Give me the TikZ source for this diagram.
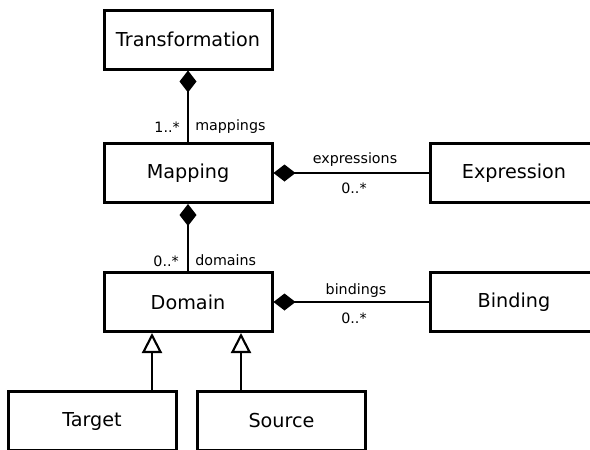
\documentclass[tikz,border=0pt]{standalone}
\usepackage{fontspec}
\setmainfont{DejaVu Sans}
\usetikzlibrary{arrows.meta}
\begin{document}
\begin{tikzpicture}[x=0.75pt,y=-0.75pt,
  cls/.style={draw=black, line width=2.25pt, fill=white, minimum width=168*0.75pt, minimum height=59*0.75pt, inner sep=0pt, font=\fontsize{14.4}{16}\selectfont},
  lbl/.style={inner sep=0pt, font=\fontsize{10.7}{12}\selectfont},
  comp/.style={line width=1.6pt, -{Diamond[length=22*0.75pt, width=17*0.75pt]}},
  gen/.style={line width=2.1pt, -{Triangle[length=20*0.75pt, width=20*0.75pt, fill=white, line width=1.6pt]}}]
\useasboundingbox (0,0) rectangle (590,450);
\clip (0,0) rectangle (590,450);
\node[cls] (transformation) at (188,39.5) {Transformation};
\node[cls] (mapping) at (188,173) {Mapping};
\node[cls] (expression) at (514,173) {Expression};
\node[cls] (domain) at (188,302) {Domain};
\node[cls] (binding) at (514,302) {Binding};
\node[cls] (target) at (92,421) {Target};
\node[cls] (source) at (281.5,421) {Source};
\coordinate (tgtTop) at (152,391);
\coordinate (srcTop) at (241,391);
\draw[comp] (mapping) -- (transformation);
\draw[comp] (expression) -- (mapping);
\draw[comp] (domain) -- (mapping);
\draw[comp] (binding) -- (domain);
\draw[gen] (target.north -| tgtTop) -- (domain.south -| tgtTop);
\draw[gen] (source.north -| srcTop) -- (domain.south -| srcTop);
\node[lbl, anchor=east] (m1) at (180,127) {1..*};
\node[lbl, anchor=west] (m2) at (195,127) {mappings};
\node[lbl] (e1) at (355,160) {expressions};
\node[lbl] (e2) at (354,188) {0..*};
\node[lbl, anchor=east] (d1) at (179,261) {0..*};
\node[lbl, anchor=west] (d2) at (195,260) {domains};
\node[lbl] (b1) at (356,291) {bindings};
\node[lbl] (b2) at (354,318) {0..*};
\end{tikzpicture}
\end{document}
